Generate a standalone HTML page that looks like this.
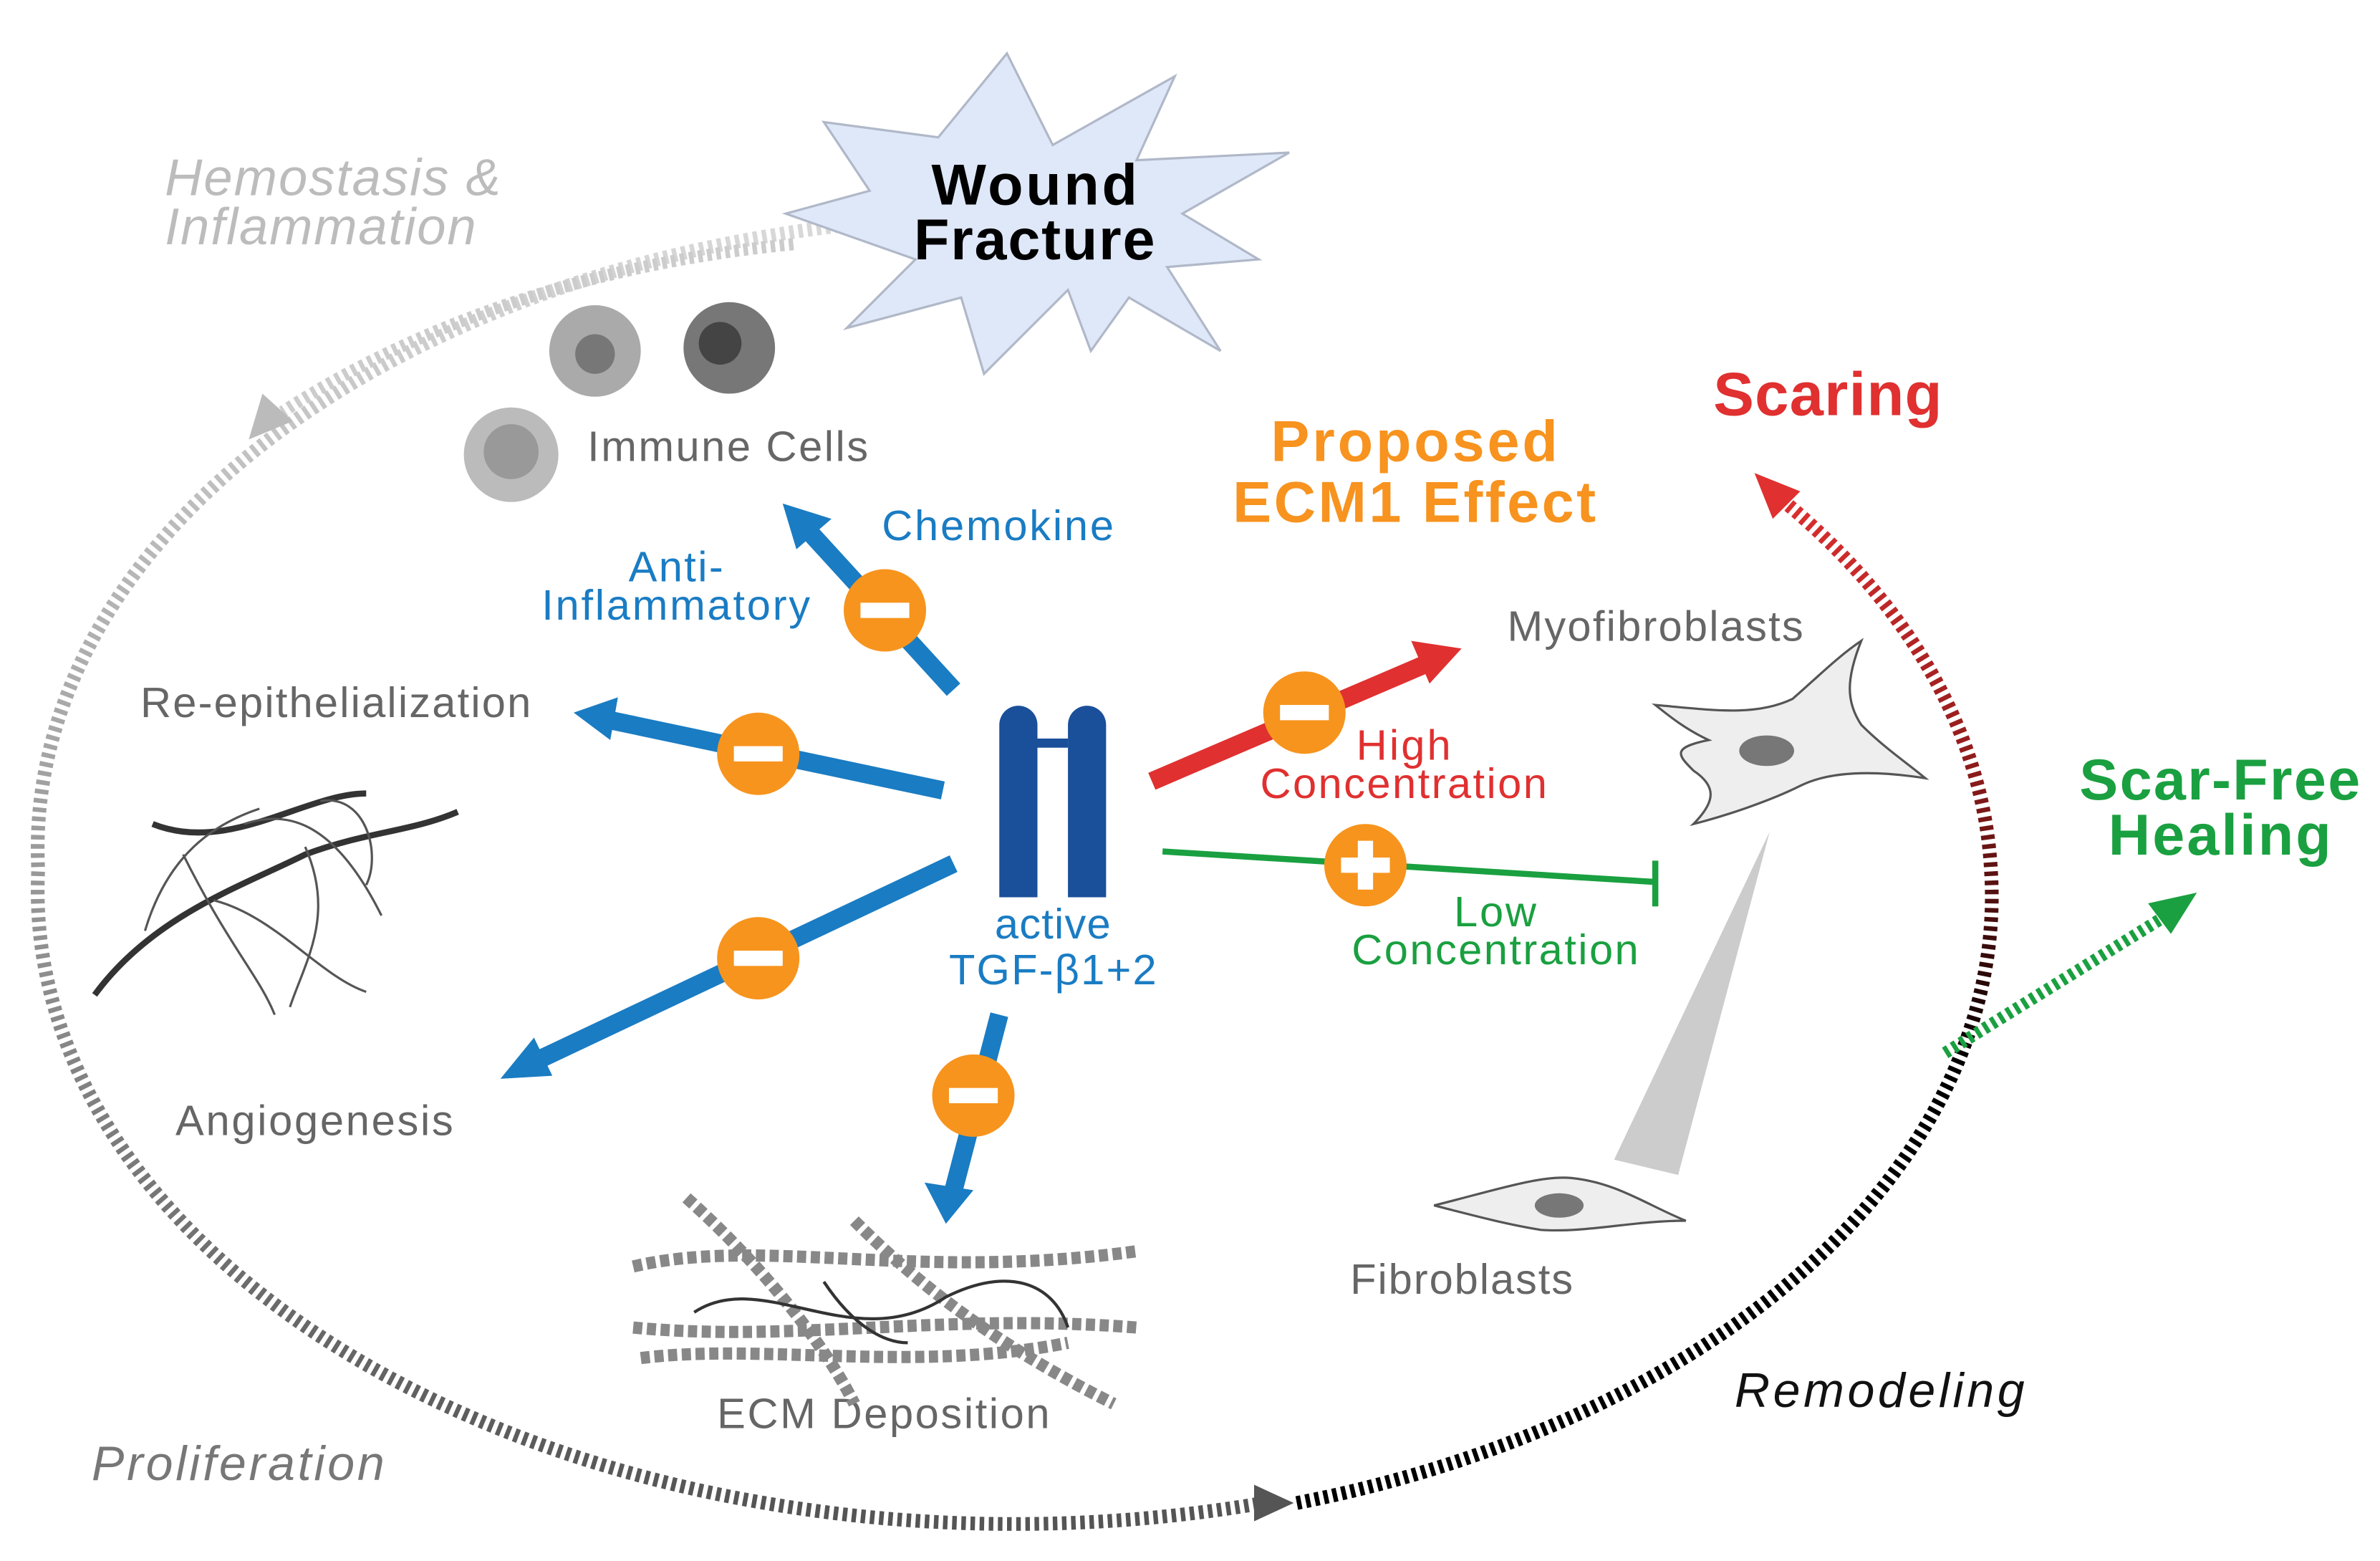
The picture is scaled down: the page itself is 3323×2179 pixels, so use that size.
<!DOCTYPE html>
<html><head><meta charset="utf-8"><style>
html,body{margin:0;padding:0;background:#fff}
svg{display:block}
text{font-family:"Liberation Sans",sans-serif}
</style></head><body>
<svg width="3323" height="2179" viewBox="0 0 1560 1023" xmlns="http://www.w3.org/2000/svg">
<defs>
<linearGradient id="gl" gradientUnits="userSpaceOnUse" x1="0" y1="150" x2="0" y2="985">
<stop offset="0" stop-color="#d8d8d8"/><stop offset="0.5" stop-color="#999"/><stop offset="1" stop-color="#555"/></linearGradient>
<linearGradient id="gr" gradientUnits="userSpaceOnUse" x1="0" y1="320" x2="0" y2="700">
<stop offset="0" stop-color="#e03030"/><stop offset="0.5" stop-color="#8a1a1a"/><stop offset="1" stop-color="#000"/></linearGradient>
</defs>
<path d="M550,148 A640,415 0 0 0 25,570 A640,415 0 0 0 828,985" fill="none" stroke="url(#gl)" stroke-width="9" stroke-dasharray="3,3"/>
<path d="M850,985 A640,415 0 0 0 1305,570 A640,415 0 0 0 1165,325" fill="none" stroke="url(#gr)" stroke-width="9" stroke-dasharray="3,3"/>
<path d="M520,160 A600,400 0 0 0 185,270" fill="none" stroke="#ccc" stroke-width="8" stroke-dasharray="3,3"/>
<polygon points="163,288 172,258 192,276" fill="#bbb"/>
<polygon points="848,985 822,973 822,997" fill="#555"/>
<polygon points="1150,310 1180,322 1162,340" fill="#e03030"/>
<path d="M1275,690 L1420,600" stroke="#1aa040" stroke-width="8" stroke-dasharray="3,3"/>
<polygon points="1440,585 1408,592 1423,612" fill="#1aa040"/>
<polygon points="660,35 690,95 770,50 745,105 845,100 775,140 825,170 765,175 800,230 740,195 715,230 700,190 645,245 630,195 555,215 600,170 515,140 570,125 540,80 615,90" fill="#dfe8f8" stroke="#b0b8c8" stroke-width="1.5"/>
<text x="678" y="134" font-size="38" font-weight="bold" text-anchor="middle" textLength="135">Wound</text>
<text x="678" y="170" font-size="38" font-weight="bold" text-anchor="middle" textLength="158">Fracture</text>
<text x="108" y="128" font-size="34" font-style="italic" fill="#bcbcbc" textLength="220">Hemostasis &amp;</text>
<text x="108" y="160" font-size="34" font-style="italic" fill="#bcbcbc" textLength="204">Inflammation</text>
<circle cx="390" cy="230" r="30" fill="#aaa"/><circle cx="390" cy="232" r="13" fill="#777"/>
<circle cx="478" cy="228" r="30" fill="#777"/><circle cx="472" cy="225" r="14" fill="#444"/>
<circle cx="335" cy="298" r="31" fill="#bbb"/><circle cx="335" cy="296" r="18" fill="#999"/>
<text x="385" y="302" font-size="28" fill="#666" textLength="184">Immune Cells</text>
<text x="1198" y="272" font-size="40" font-weight="bold" fill="#e03030" text-anchor="middle" textLength="150">Scaring</text>
<text x="927" y="302" font-size="38" font-weight="bold" fill="#f7931e" text-anchor="middle" textLength="188">Proposed</text>
<text x="927" y="342" font-size="38" font-weight="bold" fill="#f7931e" text-anchor="middle" textLength="238">ECM1 Effect</text>
<text x="1455" y="524" font-size="38" font-weight="bold" fill="#1aa040" text-anchor="middle" textLength="184">Scar-Free</text>
<text x="1455" y="560" font-size="38" font-weight="bold" fill="#1aa040" text-anchor="middle" textLength="146">Healing</text>
<text x="1232" y="922" font-size="32" font-style="italic" fill="#111" text-anchor="middle" textLength="190">Remodeling</text>
<text x="60" y="970" font-size="32" font-style="italic" fill="#777" textLength="192">Proliferation</text>
<g stroke="#1a7cc3" stroke-width="12" fill="none">
<line x1="625" y1="452" x2="530" y2="348"/>
<line x1="618" y1="518" x2="400" y2="472"/>
<line x1="625" y1="566" x2="352" y2="695"/>
<line x1="655" y1="665" x2="625" y2="780"/>
</g>
<g fill="#1a7cc3">
<polygon points="513,330 545,340 522,360"/>
<polygon points="376,467 405,457 400,485"/>
<polygon points="328,707 350,680 362,705"/>
<polygon points="620,802 606,775 638,780"/>
</g>
<line x1="755" y1="512" x2="935" y2="435" stroke="#e03030" stroke-width="12"/>
<polygon points="958,425 925,420 937,448" fill="#e03030"/>
<line x1="762" y1="558" x2="1085" y2="578" stroke="#1aa040" stroke-width="4"/>
<line x1="1085" y1="564" x2="1085" y2="594" stroke="#1aa040" stroke-width="4"/>
<g fill="#f7941d">
<circle cx="580" cy="400" r="27"/><circle cx="497" cy="494" r="27"/><circle cx="497" cy="628" r="27"/><circle cx="638" cy="718" r="27"/><circle cx="855" cy="467" r="27"/><circle cx="895" cy="567" r="27"/></g>
<g fill="#fff">
<rect x="564" y="395" width="32" height="10"/><rect x="481" y="489" width="32" height="10"/><rect x="481" y="623" width="32" height="10"/><rect x="622" y="713" width="32" height="10"/><rect x="839" y="462" width="32" height="10"/><rect x="879" y="562" width="32" height="10"/><rect x="890" y="551" width="10" height="32"/></g>
<path d="M655,588 V475 A12.5,12.5 0 0 1 680,475 V588 Z M700,588 V475 A12.5,12.5 0 0 1 725,475 V588 Z" fill="#1a4f9a"/>
<rect x="680" y="484" width="20" height="6" fill="#1a4f9a"/>
<text x="690" y="615" font-size="28" fill="#1a7cc3" text-anchor="middle" textLength="76">active</text>
<text x="690" y="645" font-size="28" fill="#1a7cc3" text-anchor="middle" textLength="136">TGF-β1+2</text>
<text x="578" y="354" font-size="28" fill="#1a7cc3" textLength="152">Chemokine</text>
<text x="443" y="381" font-size="28" fill="#1a7cc3" text-anchor="middle" textLength="62">Anti-</text>
<text x="443" y="406" font-size="28" fill="#1a7cc3" text-anchor="middle" textLength="176">Inflammatory</text>
<text x="920" y="498" font-size="28" fill="#e03030" text-anchor="middle" textLength="62">High</text>
<text x="920" y="523" font-size="28" fill="#e03030" text-anchor="middle" textLength="188">Concentration</text>
<text x="980" y="607" font-size="28" fill="#1aa040" text-anchor="middle" textLength="54">Low</text>
<text x="980" y="632" font-size="28" fill="#1aa040" text-anchor="middle" textLength="188">Concentration</text>
<text x="92" y="470" font-size="28" fill="#666" textLength="256">Re-epithelialization</text>
<text x="115" y="744" font-size="28" fill="#666" textLength="182">Angiogenesis</text>
<text x="470" y="936" font-size="28" fill="#666" textLength="218">ECM Deposition</text>
<text x="885" y="848" font-size="28" fill="#666" textLength="146">Fibroblasts</text>
<text x="988" y="420" font-size="28" fill="#666" textLength="194">Myofibroblasts</text>
<g fill="none" stroke="#333" stroke-width="4">
<path d="M62,652 C100,600 160,580 200,560 C240,545 270,545 300,532"/>
<path d="M100,540 C150,560 200,520 240,520"/></g>
<g fill="none" stroke="#555" stroke-width="1.5">
<path d="M95,610 C110,560 140,540 170,530"/><path d="M140,590 C180,600 210,640 240,650"/><path d="M200,555 C220,600 200,630 190,660"/><path d="M120,560 C150,620 170,640 180,665"/><path d="M210,525 C240,520 250,560 240,580"/><path d="M160,540 C190,530 220,540 250,600"/></g>
<g fill="none" stroke="#888" stroke-width="8" stroke-dasharray="6,3">
<path d="M415,830 C500,810 600,840 745,820"/><path d="M415,870 C520,880 620,860 745,870"/><path d="M420,890 C500,880 600,900 700,880"/><path d="M450,785 C500,830 540,880 560,920"/><path d="M560,800 C600,840 650,880 730,920"/></g>
<g fill="none" stroke="#333" stroke-width="2"><path d="M455,860 C500,830 560,890 620,850 C660,830 690,840 700,870"/><path d="M540,840 C560,870 580,880 595,880"/></g>
<path d="M1085,462 C1120,465 1150,470 1175,458 C1190,445 1205,430 1220,420 C1210,445 1210,460 1220,475 C1235,490 1250,500 1262,510 C1230,505 1200,505 1180,515 C1160,525 1130,535 1110,540 C1125,525 1125,515 1110,505 C1100,495 1095,490 1120,485 C1105,478 1095,470 1085,462 Z" fill="#eee" stroke="#555" stroke-width="1.5"/>
<ellipse cx="1158" cy="492" rx="18" ry="10" fill="#777"/>
<polygon points="1160,545 1058,760 1100,770" fill="#ccc"/>
<path d="M940,790 C980,780 1010,770 1030,772 C1060,775 1080,790 1105,800 C1070,800 1040,808 1010,806 C985,802 960,795 940,790 Z" fill="#eee" stroke="#555" stroke-width="1.5"/>
<ellipse cx="1022" cy="790" rx="16" ry="8" fill="#777"/>
</svg>
</body></html>
